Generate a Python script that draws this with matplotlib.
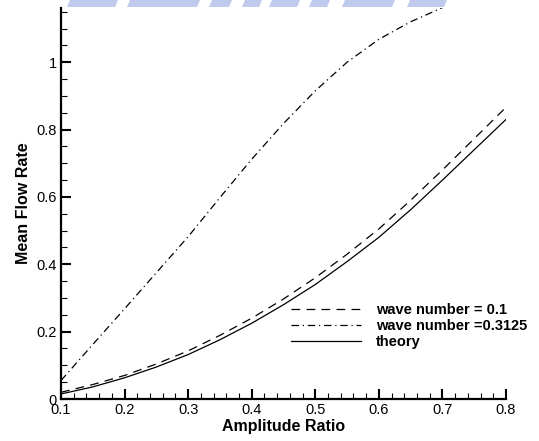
import numpy as np
import matplotlib
matplotlib.use("Agg")
import matplotlib.pyplot as plt
from matplotlib.ticker import MultipleLocator, FuncFormatter
from matplotlib.patches import Polygon

plt.rcParams['font.family'] = ['Liberation Sans', 'DejaVu Sans']

# amplitude ratio (x) and mean flow rate curves
amp = [0.10, 0.15, 0.20, 0.25, 0.30, 0.35, 0.40, 0.45,
       0.50, 0.55, 0.60, 0.65, 0.70, 0.75, 0.80]
q_k01 = [0.020, 0.043, 0.070, 0.104, 0.143, 0.189, 0.240, 0.297,
         0.360, 0.430, 0.505, 0.590, 0.680, 0.773, 0.866]
q_theory = [0.015, 0.036, 0.063, 0.095, 0.132, 0.176, 0.225, 0.280,
            0.340, 0.408, 0.480, 0.562, 0.650, 0.740, 0.830]

amp_k03 = [0.10, 0.15, 0.20, 0.25, 0.30, 0.35, 0.40, 0.45,
           0.50, 0.55, 0.60, 0.65, 0.70]
q_k03 = [0.055, 0.162, 0.268, 0.375, 0.482, 0.598, 0.712, 0.818,
         0.915, 1.000, 1.068, 1.120, 1.162]

labels = ['wave number = 0.1', 'wave number =0.3125', 'theory']

fig = plt.figure(figsize=(5.39, 4.41), dpi=100)
ax = fig.add_axes([0.1132, 0.0952, 0.8256, 0.886])

ax.plot(amp, q_k01, color='black', lw=0.9, linestyle=(0, (7, 5)), label=labels[0])
ax.plot(amp_k03, q_k03, color='black', lw=0.9, linestyle=(0, (6, 3, 1, 3)), label=labels[1])
ax.plot(amp, q_theory, color='black', lw=0.9, linestyle='-', label=labels[2])

ax.set_xlim(0.1, 0.8)
ax.set_ylim(0, 1.16)

ax.spines['top'].set_visible(False)
ax.spines['right'].set_visible(False)
ax.spines['left'].set_linewidth(1.6)
ax.spines['bottom'].set_linewidth(1.6)

ax.xaxis.set_major_locator(MultipleLocator(0.1))
ax.xaxis.set_minor_locator(MultipleLocator(0.02))
ax.yaxis.set_major_locator(MultipleLocator(0.2))
ax.yaxis.set_minor_locator(MultipleLocator(0.05))
fmt = FuncFormatter(lambda v, p: '%g' % round(v, 3))
ax.xaxis.set_major_formatter(fmt)
ax.yaxis.set_major_formatter(fmt)

ax.tick_params(which='major', direction='in', length=7, width=1.5,
               labelsize=10.5, pad=3)
ax.tick_params(which='minor', direction='in', length=4, width=0.8)

ax.set_xlabel('Amplitude Ratio', fontsize=11.5, fontweight='bold', labelpad=1)
ax.set_ylabel('Mean Flow Rate', fontsize=11.5, fontweight='bold', labelpad=4)

leg = ax.legend(loc='upper left', bbox_to_anchor=(291 / 539, 1 - 303 / 441),
                bbox_transform=fig.transFigure, frameon=False,
                prop={'weight': 'bold', 'size': 10.5}, handlelength=4.8,
                handletextpad=1.0, labelspacing=0.15, borderpad=0, borderaxespad=0)

# faint blue watermark band at top edge (cropped logo)
wm = '#bfcaec'
blocks = [(70, 118), (130, 200), (212, 232), (245, 262), (272, 300),
          (312, 330), (345, 395), (410, 447)]
for x0, x1 in blocks:
    pts = [(x0 / 539, 1), (x1 / 539, 1), ((x1 - 3) / 539, 1 - 7 / 441), ((x0 - 3) / 539, 1 - 7 / 441)]
    fig.add_artist(Polygon(pts, closed=True, transform=fig.transFigure,
                           facecolor=wm, edgecolor='none', zorder=0))

fig.savefig('out.png', dpi=100)
